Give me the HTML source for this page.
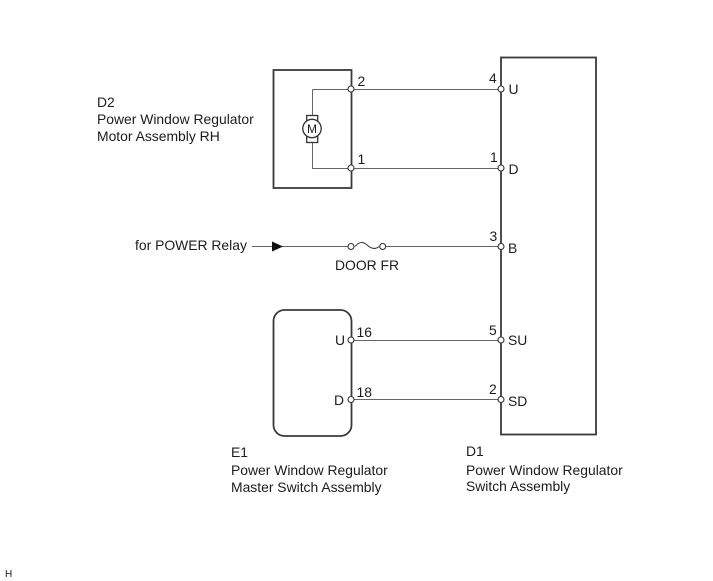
<!DOCTYPE html>
<html><head><meta charset="utf-8"><style>
html,body{margin:0;padding:0;background:#fff}
svg{display:block}
text{font-family:"Liberation Sans",sans-serif;font-size:13.9px;fill:#1c1c1c}
</style></head><body>
<svg width="713" height="581" viewBox="0 0 713 581" xmlns="http://www.w3.org/2000/svg">
<g fill="none" stroke="#666" stroke-width="1">
<path d="M351 89.500H501M351 168.500H501M312.500 89.500H351M312.500 89.500V115M312.500 142V168.500H351"/>
<path d="M252 246.500H348M386 246.500H501M351 340.500H501M351 399.500H501"/>
</g>
<path d="M355 246.500c4 -5 8 -5 12 -1.500s8 5 12 1.500" fill="none" stroke="#333" stroke-width="1"/>
<g fill="none" stroke="#3a3a3a" stroke-width="1.800">
<rect x="273.500" y="70" width="78" height="118"/>
<rect x="273.500" y="310" width="78" height="126" rx="11" ry="11"/>
<rect x="501" y="57.500" width="95" height="377"/>
</g>
<g fill="#fff" stroke="#333" stroke-width="1.300">
<rect x="306.700" y="115.500" width="11" height="6"/>
<rect x="306.700" y="136.500" width="11" height="6"/>
<circle cx="312" cy="128.500" r="9.200"/>
</g>
<text x="312" y="133" text-anchor="middle" style="font-size:12px">M</text>
<path d="M272 241.500L283 246.500L272 251.500Z" fill="#111"/>
<g fill="#fff" stroke="#333" stroke-width="1.100">
<circle cx="351" cy="89" r="3"/><circle cx="351" cy="168" r="3"/>
<circle cx="351" cy="340" r="3"/><circle cx="351" cy="399.500" r="3"/>
<circle cx="501" cy="89" r="3"/><circle cx="501" cy="168" r="3"/>
<circle cx="501" cy="246.500" r="3"/><circle cx="501" cy="340" r="3"/><circle cx="501" cy="399.500" r="3"/>
<circle cx="351" cy="246.500" r="3"/><circle cx="382.700" cy="246.500" r="3"/>
</g>
<text x="97" y="107">D2</text>
<text x="97" y="124">Power Window Regulator</text>
<text x="97" y="141">Motor Assembly RH</text>
<text x="135" y="250">for POWER Relay</text>
<text x="335" y="270">DOOR FR</text>
<text x="231" y="457">E1</text>
<text x="231" y="475">Power Window Regulator</text>
<text x="231" y="492">Master Switch Assembly</text>
<text x="466" y="456">D1</text>
<text x="466" y="475">Power Window Regulator</text>
<text x="466" y="491">Switch Assembly</text>
<text x="357.500" y="86">2</text>
<text x="357.500" y="164">1</text>
<text x="356.500" y="337">16</text>
<text x="356.500" y="397">18</text>
<text x="335" y="345">U</text>
<text x="334" y="405">D</text>
<text x="489" y="83">4</text>
<text x="490" y="162">1</text>
<text x="489.500" y="241">3</text>
<text x="489" y="335">5</text>
<text x="489" y="394">2</text>
<text x="508.500" y="94">U</text>
<text x="508.500" y="174">D</text>
<text x="508" y="253">B</text>
<text x="508" y="345">SU</text>
<text x="508" y="406">SD</text>
<text x="5" y="577" style="font-size:10px">H</text>
</svg>
</body></html>
